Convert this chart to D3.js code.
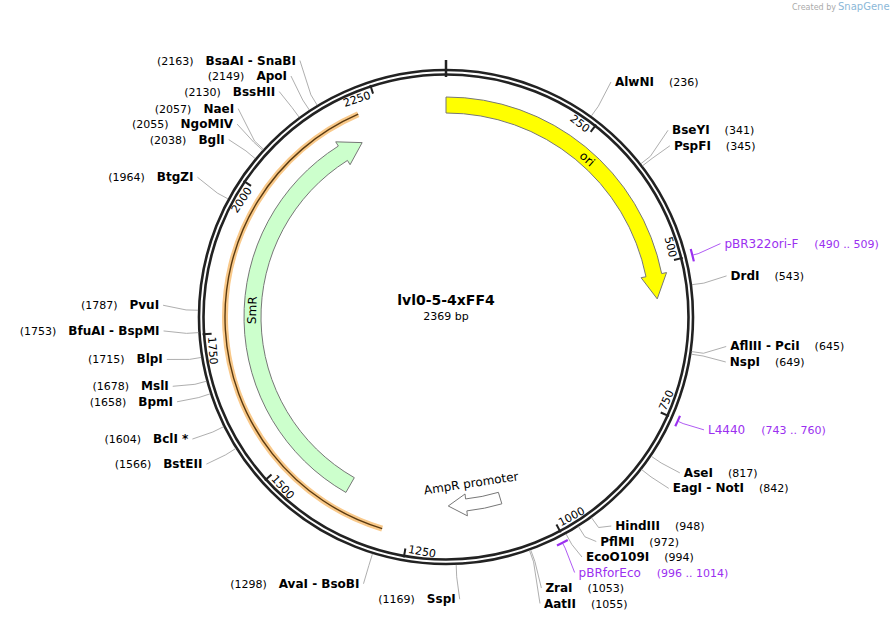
<!DOCTYPE html>
<html><head><meta charset="utf-8">
<script src="https://cdn.jsdelivr.net/npm/d3@7"></script>
<style>body{margin:0;background:#fff}text{font-family:"DejaVu Sans",Verdana,sans-serif}</style>
</head><body>
<svg id="map" width="892" height="633"></svg>
<script>
var seqLen = 2369;
var plasmidName = "lvl0-5-4xFF4";
var tickPositions = [250, 500, 750, 1000, 1250, 1500, 1750, 2000, 2250];
var enzymeNames = ["AlwNI", "BseYI", "PspFI", "DrdI", "AflIII - PciI", "NspI", "AseI", "EagI - NotI",
  "HindIII", "PflMI", "EcoO109I", "ZraI", "AatII", "SspI", "AvaI - BsoBI", "BstEII", "BclI *",
  "BpmI", "MslI", "BlpI", "BfuAI - BspMI", "PvuI", "BtgZI", "BglI", "NgoMIV", "NaeI", "BssHII", "ApoI", "BsaAI - SnaBI"];
var enzymeSites = [236, 341, 345, 543, 645, 649, 817, 842, 948, 972, 994, 1053, 1055, 1169, 1298, 1566, 1604,
  1658, 1678, 1715, 1753, 1787, 1964, 2038, 2055, 2057, 2130, 2149, 2163];
var primerNames = ["pBR322ori-F", "L4440", "pBRforEco"];
var primerStarts = [490, 743, 996];
var primerEnds = [509, 760, 1014];
var featureNames = ["ori", "SmR", "AmpR promoter"];
var featureStarts = [0, 1380, 1075];
var featureEnds = [560, 2200, 1180];

var svg = d3.select("#map");
var cx = 446, cy = 317, R = 247;
var ang = d3.scaleLinear().domain([0, seqLen]).range([0, 2 * Math.PI]);
function pt(r, a) { return [cx + r * Math.sin(a), cy - r * Math.cos(a)]; }
var deg = function(a) { return a * 180 / Math.PI; };

svg.append("text").attr("x", 792).attr("y", 10).attr("font-size", 8).attr("fill", "#aaa").text("Created by");
svg.append("text").attr("x", 838).attr("y", 10).attr("font-size", 10).attr("fill", "#8bb8d8").text("SnapGene");

// backbone
[R, R - 4.5].forEach(function(r) {
  svg.append("circle").attr("cx", cx).attr("cy", cy).attr("r", r)
    .attr("fill", "none").attr("stroke", "#222").attr("stroke-width", 2.6);
});
var z0 = pt(240, 0), z1 = pt(257, 0);
svg.append("line").attr("x1", z0[0]).attr("y1", z0[1]).attr("x2", z1[0]).attr("y2", z1[1])
  .attr("stroke", "#222").attr("stroke-width", 2.5);

tickPositions.forEach(function(p) {
  var a = ang(p), p0 = pt(235, a), p1 = pt(244, a);
  svg.append("line").attr("x1", p0[0]).attr("y1", p0[1]).attr("x2", p1[0]).attr("y2", p1[1])
    .attr("stroke", "#222").attr("stroke-width", 2);
  var q = pt(235, a), bottom = a > Math.PI / 2 && a < 1.5 * Math.PI;
  svg.append("text").attr("transform", "translate(" + q + ") rotate(" + (deg(a) + (bottom ? 180 : 0)) + ")")
    .attr("x", bottom ? 3 : -3).attr("dy", "0.35em").attr("text-anchor", bottom ? "start" : "end")
    .attr("font-size", 11).text(p);
});

// orange highlight
var arcGen = d3.arc();
var oArc = arcGen({innerRadius: 221, outerRadius: 221, startAngle: ang(1295), endAngle: ang(2215)});
svg.append("path").attr("transform", "translate(" + cx + "," + cy + ")").attr("d", oArc)
  .attr("fill", "none").attr("stroke", "#f9c98a").attr("stroke-width", 6).attr("stroke-linecap", "round");
svg.append("path").attr("transform", "translate(" + cx + "," + cy + ")").attr("d", oArc)
  .attr("fill", "none").attr("stroke", "#5a3a10").attr("stroke-width", 1.4).attr("stroke-linecap", "round");

function arrowPath(s, e, r0, r1, headPx) {
  var a0 = ang(s), a1 = ang(e), rm = (r0 + r1) / 2, h = headPx / rm, w = 5;
  var ah = a1 - h, large = (ah - a0) > Math.PI ? 1 : 0;
  var d = "M" + pt(r1, a0) + "A" + r1 + "," + r1 + " 0 " + large + " 1 " + pt(r1, ah);
  d += "L" + pt(r1 + w, ah) + "L" + pt(rm, a1) + "L" + pt(r0 - w, ah) + "L" + pt(r0, ah);
  d += "A" + r0 + "," + r0 + " 0 " + large + " 0 " + pt(r0, a0) + "Z";
  return d;
}
var featFill = ["#ffff00", "#ccffcc", "#ffffff"];
var featR = [[204, 220], [185, 202], [183, 195]];
var featHead = [24, 22, 18];
featureNames.forEach(function(n, i) {
  svg.append("path").attr("d", arrowPath(featureStarts[i], featureEnds[i], featR[i][0], featR[i][1], featHead[i]))
    .attr("fill", featFill[i]).attr("stroke", "#777").attr("stroke-width", 1);
});
function arcLabel(txt, pos, r, flip) {
  var a = ang(pos), q = pt(r, a);
  svg.append("text").attr("transform", "translate(" + q + ") rotate(" + (deg(a) + (flip ? 180 : 0)) + ")")
    .attr("text-anchor", "middle").attr("dy", "0.35em").attr("font-size", 12).text(txt);
}
arcLabel("ori", 275, 212, false);
arcLabel("SmR", 1790, 194, false);
arcLabel("AmpR promoter", 1128, 168, true);

// labels
var labels = [];
enzymeNames.forEach(function(n, i) {
  labels.push({name: n, pos: enzymeSites[i], txt: "(" + enzymeSites[i] + ")", primer: false});
});
primerNames.forEach(function(n, i) {
  var m = (primerStarts[i] + primerEnds[i]) / 2;
  labels.push({name: n, pos: m, txt: "(" + primerStarts[i] + " .. " + primerEnds[i] + ")", primer: true});
  var pa = d3.arc()({innerRadius: 254, outerRadius: 254, startAngle: ang(primerStarts[i]), endAngle: ang(primerEnds[i])});
  svg.append("path").attr("transform", "translate(" + cx + "," + cy + ")").attr("d", pa)
    .attr("fill", "none").attr("stroke", "#9b30f0").attr("stroke-width", 2.2);
});
var LR = 285;
labels.forEach(function(l) {
  var a = ang(l.pos), q = pt(LR, a);
  l.a = a; l.x = q[0]; l.y = q[1]; l.left = l.pos > 1150;
});
function spread(arr) {
  arr.sort(function(a, b) { return a.y - b.y; });
  var groups = arr.map(function(l) { return {items: [l], c: l.y}; });
  var changed = true, gap = 15.5;
  while (changed) {
    changed = false;
    for (var i = 0; i < groups.length - 1; i++) {
      var g = groups[i], h = groups[i + 1];
      var gEnd = g.c + (g.items.length - 1) * gap / 2, hStart = h.c - (h.items.length - 1) * gap / 2;
      if (hStart - gEnd < gap) {
        var items = g.items.concat(h.items);
        g.items = items; g.c = d3.mean(items, function(d) { return d.y; });
        groups.splice(i + 1, 1); changed = true; break;
      }
    }
  }
  groups.forEach(function(g) {
    g.items.forEach(function(l, k) { l.ly = g.c + (k - (g.items.length - 1) / 2) * gap; });
  });
}
spread(labels.filter(function(l) { return !l.left; }));
spread(labels.filter(function(l) { return l.left; }));

labels.forEach(function(l) {
  var col = l.primer ? "#9b30f0" : "#999";
  var r0 = l.primer ? 255 : 248, p0 = pt(r0, l.a), p1 = pt(260, l.a);
  var ex = l.left ? l.x + 2 : l.x - 2;
  svg.append("polyline").attr("points", [p0, p1, [ex, l.ly - 4]].join(" "))
    .attr("fill", "none").attr("stroke", col).attr("stroke-width", 0.8);
  var t = svg.append("text").attr("x", l.left ? l.x - 2 : l.x + 2).attr("y", l.ly).attr("font-size", 12)
    .attr("text-anchor", l.left ? "end" : "start");
  if (l.primer) {
    t.attr("fill", "#9b30f0");
    t.append("tspan").text(l.name);
    t.append("tspan").attr("dx", 16).attr("font-size", 11).text(l.txt);
  } else if (l.left) {
    t.append("tspan").attr("font-size", 11).text(l.txt);
    t.append("tspan").attr("dx", 12).attr("font-weight", "bold").text(l.name);
  } else {
    t.append("tspan").attr("font-weight", "bold").text(l.name);
    t.append("tspan").attr("dx", 15).attr("font-size", 11).text(l.txt);
  }
});

svg.append("text").attr("x", cx).attr("y", 305).attr("text-anchor", "middle")
  .attr("font-size", 14).attr("font-weight", "bold").text(plasmidName);
svg.append("text").attr("x", cx).attr("y", 320).attr("text-anchor", "middle")
  .attr("font-size", 11).text(seqLen + " bp");
</script>
</body></html>
